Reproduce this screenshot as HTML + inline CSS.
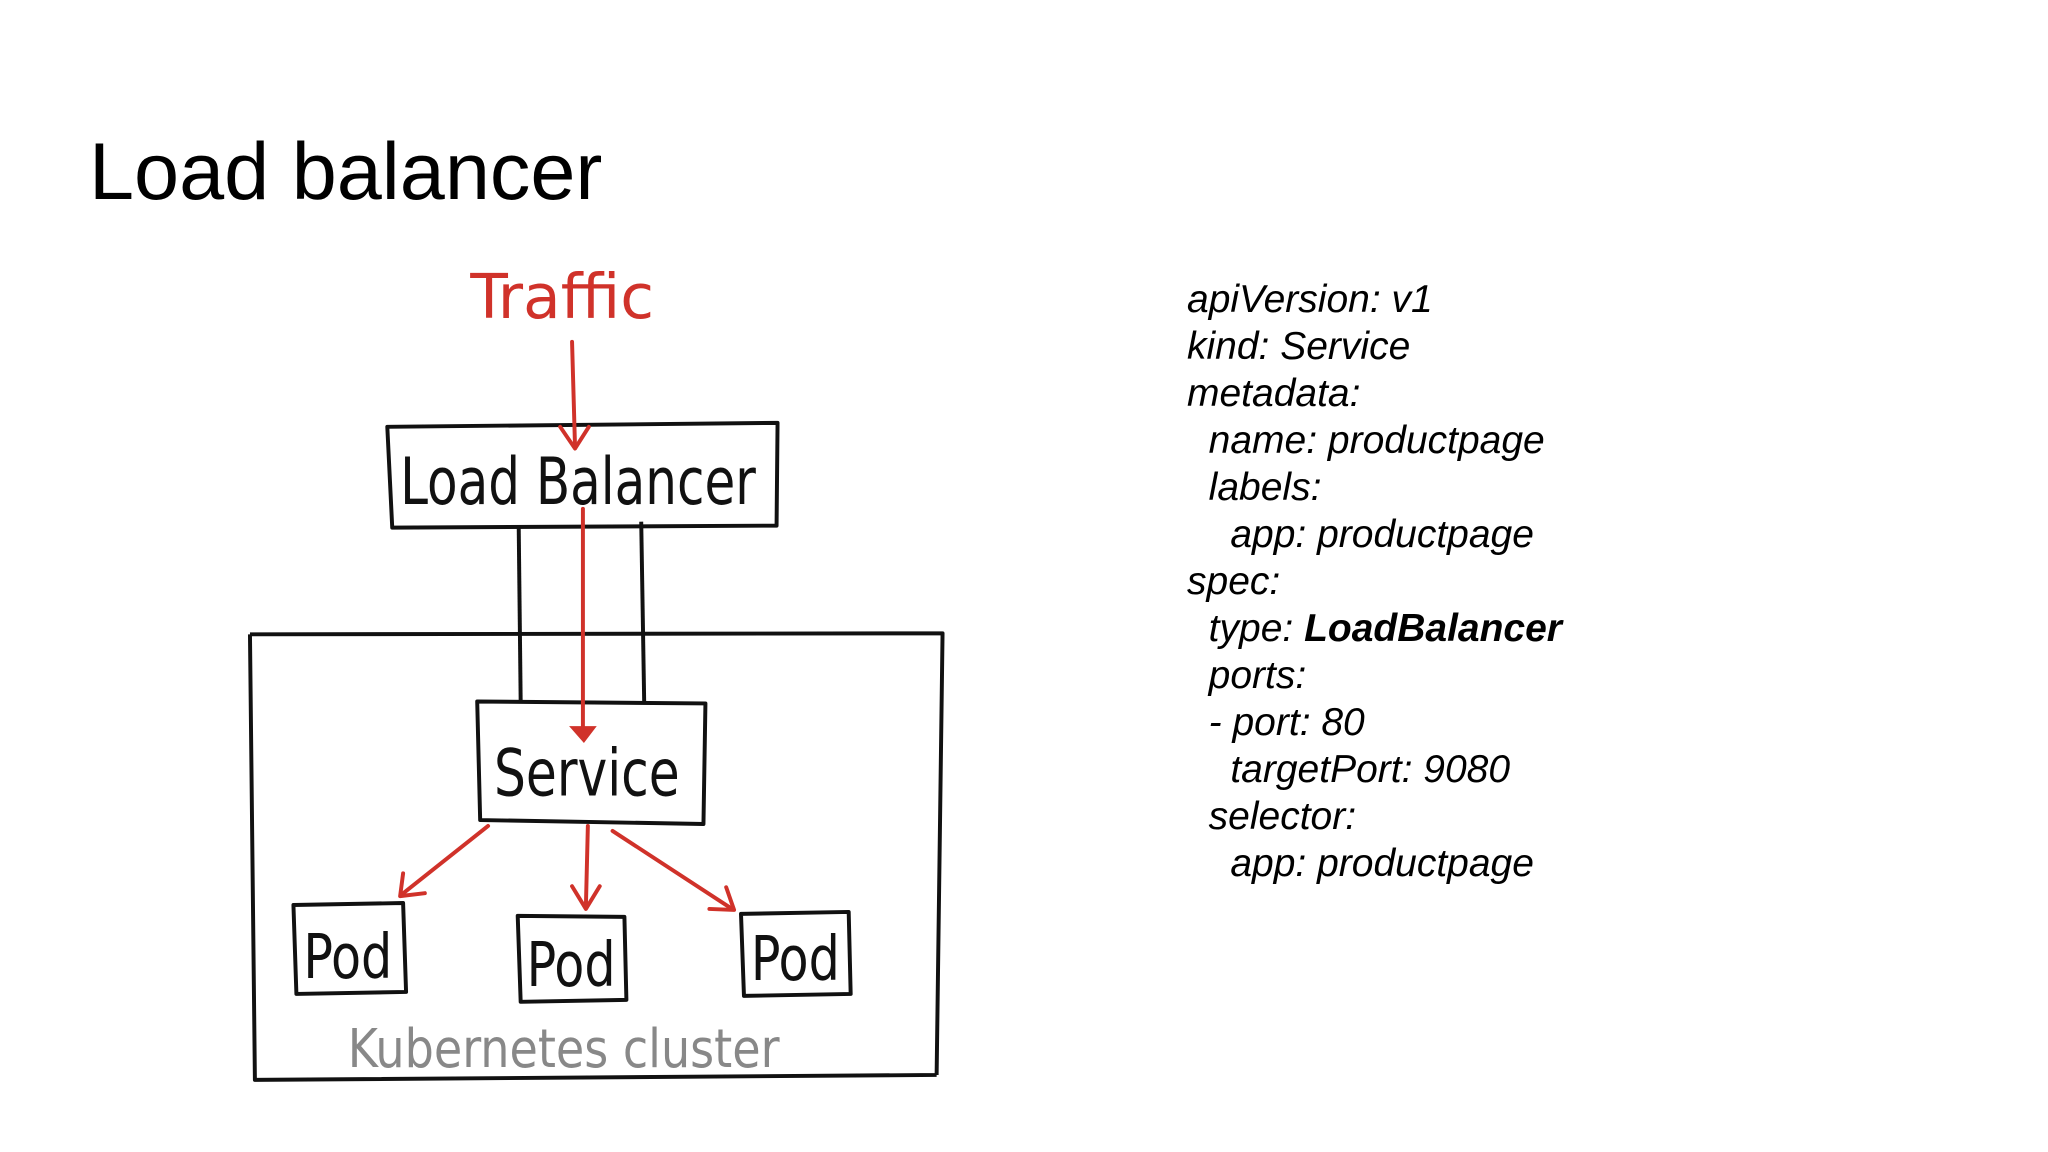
<!DOCTYPE html>
<html><head><meta charset="utf-8"><style>
html,body{margin:0;padding:0;background:#fff;}
body{width:2048px;height:1152px;position:relative;overflow:hidden;font-family:"Liberation Sans",sans-serif;}
.title{position:absolute;left:89px;top:122px;font-size:81px;line-height:100px;color:#000;}
.yaml{position:absolute;left:1187px;top:276px;font-size:39px;line-height:47px;font-style:italic;white-space:pre;color:#000;margin:0;font-family:"Liberation Sans",sans-serif;}
svg{position:absolute;left:0;top:0;}
.hand{font-family:"DejaVu Sans Condensed","DejaVu Sans",sans-serif;}
</style></head><body>
<div class="title">Load balancer</div>
<pre class="yaml">apiVersion: v1
kind: Service
metadata:
  name: productpage
  labels:
    app: productpage
spec:
  type: <b>LoadBalancer</b>
  ports:
  - port: 80
    targetPort: 9080
  selector:
    app: productpage</pre>
<svg width="2048" height="1152" viewBox="0 0 2048 1152">
<g transform="scale(0.988)">
<g fill="none" stroke="#111" stroke-width="4" stroke-linejoin="round">
<polygon points="392,432 787,428 786,532 397,534"/>
<polygon points="483,710 714,712 712,834 486,830"/>
<path d="M253,642 L954,641 L948,1088 M253,642 L258,1093 L948,1088"/>
<line x1="525" y1="532" x2="527" y2="710"/>
<line x1="649" y1="528" x2="652" y2="710"/>
<polygon points="297,916 408,914 411,1004 300,1006"/>
<polygon points="524,927 632,928 634,1012 527,1014"/>
<polygon points="750,925 859,923 861,1006 753,1008"/>
</g>
<g fill="none" stroke="#d0322a" stroke-width="4" stroke-linecap="round" stroke-linejoin="round">
<line x1="579" y1="346" x2="582" y2="452"/>
<polyline points="567,432 582,454 596,432"/>
<line x1="590" y1="515" x2="590" y2="740"/>
<line x1="494" y1="836" x2="407" y2="905"/>
<polyline points="408,884 405,907 430,904"/>
<line x1="595" y1="836" x2="593" y2="918"/>
<polyline points="579,897 593,920 607,897"/>
<line x1="620" y1="841" x2="741" y2="920"/>
<polyline points="718,920 743,921 735,898"/>
</g>
<polygon points="576,735 604,735 591,752" fill="#d0322a"/>
<text class="hand" x="476" y="322" font-size="62" fill="#d0322a" textLength="186" lengthAdjust="spacingAndGlyphs">Traffic</text>
<text class="hand" x="405" y="510" font-size="66" fill="#111" textLength="360" lengthAdjust="spacingAndGlyphs">Load Balancer</text>
<text class="hand" x="500" y="805" font-size="66" fill="#111" textLength="188" lengthAdjust="spacingAndGlyphs">Service</text>
<text class="hand" x="307" y="990" font-size="62" fill="#111" textLength="90" lengthAdjust="spacingAndGlyphs">Pod</text>
<text class="hand" x="533" y="998" font-size="62" fill="#111" textLength="90" lengthAdjust="spacingAndGlyphs">Pod</text>
<text class="hand" x="760" y="992" font-size="62" fill="#111" textLength="90" lengthAdjust="spacingAndGlyphs">Pod</text>
<text class="hand" x="352" y="1080" font-size="54" fill="#888" textLength="437" lengthAdjust="spacingAndGlyphs">Kubernetes cluster</text>
</g>
</svg>
</body></html>
